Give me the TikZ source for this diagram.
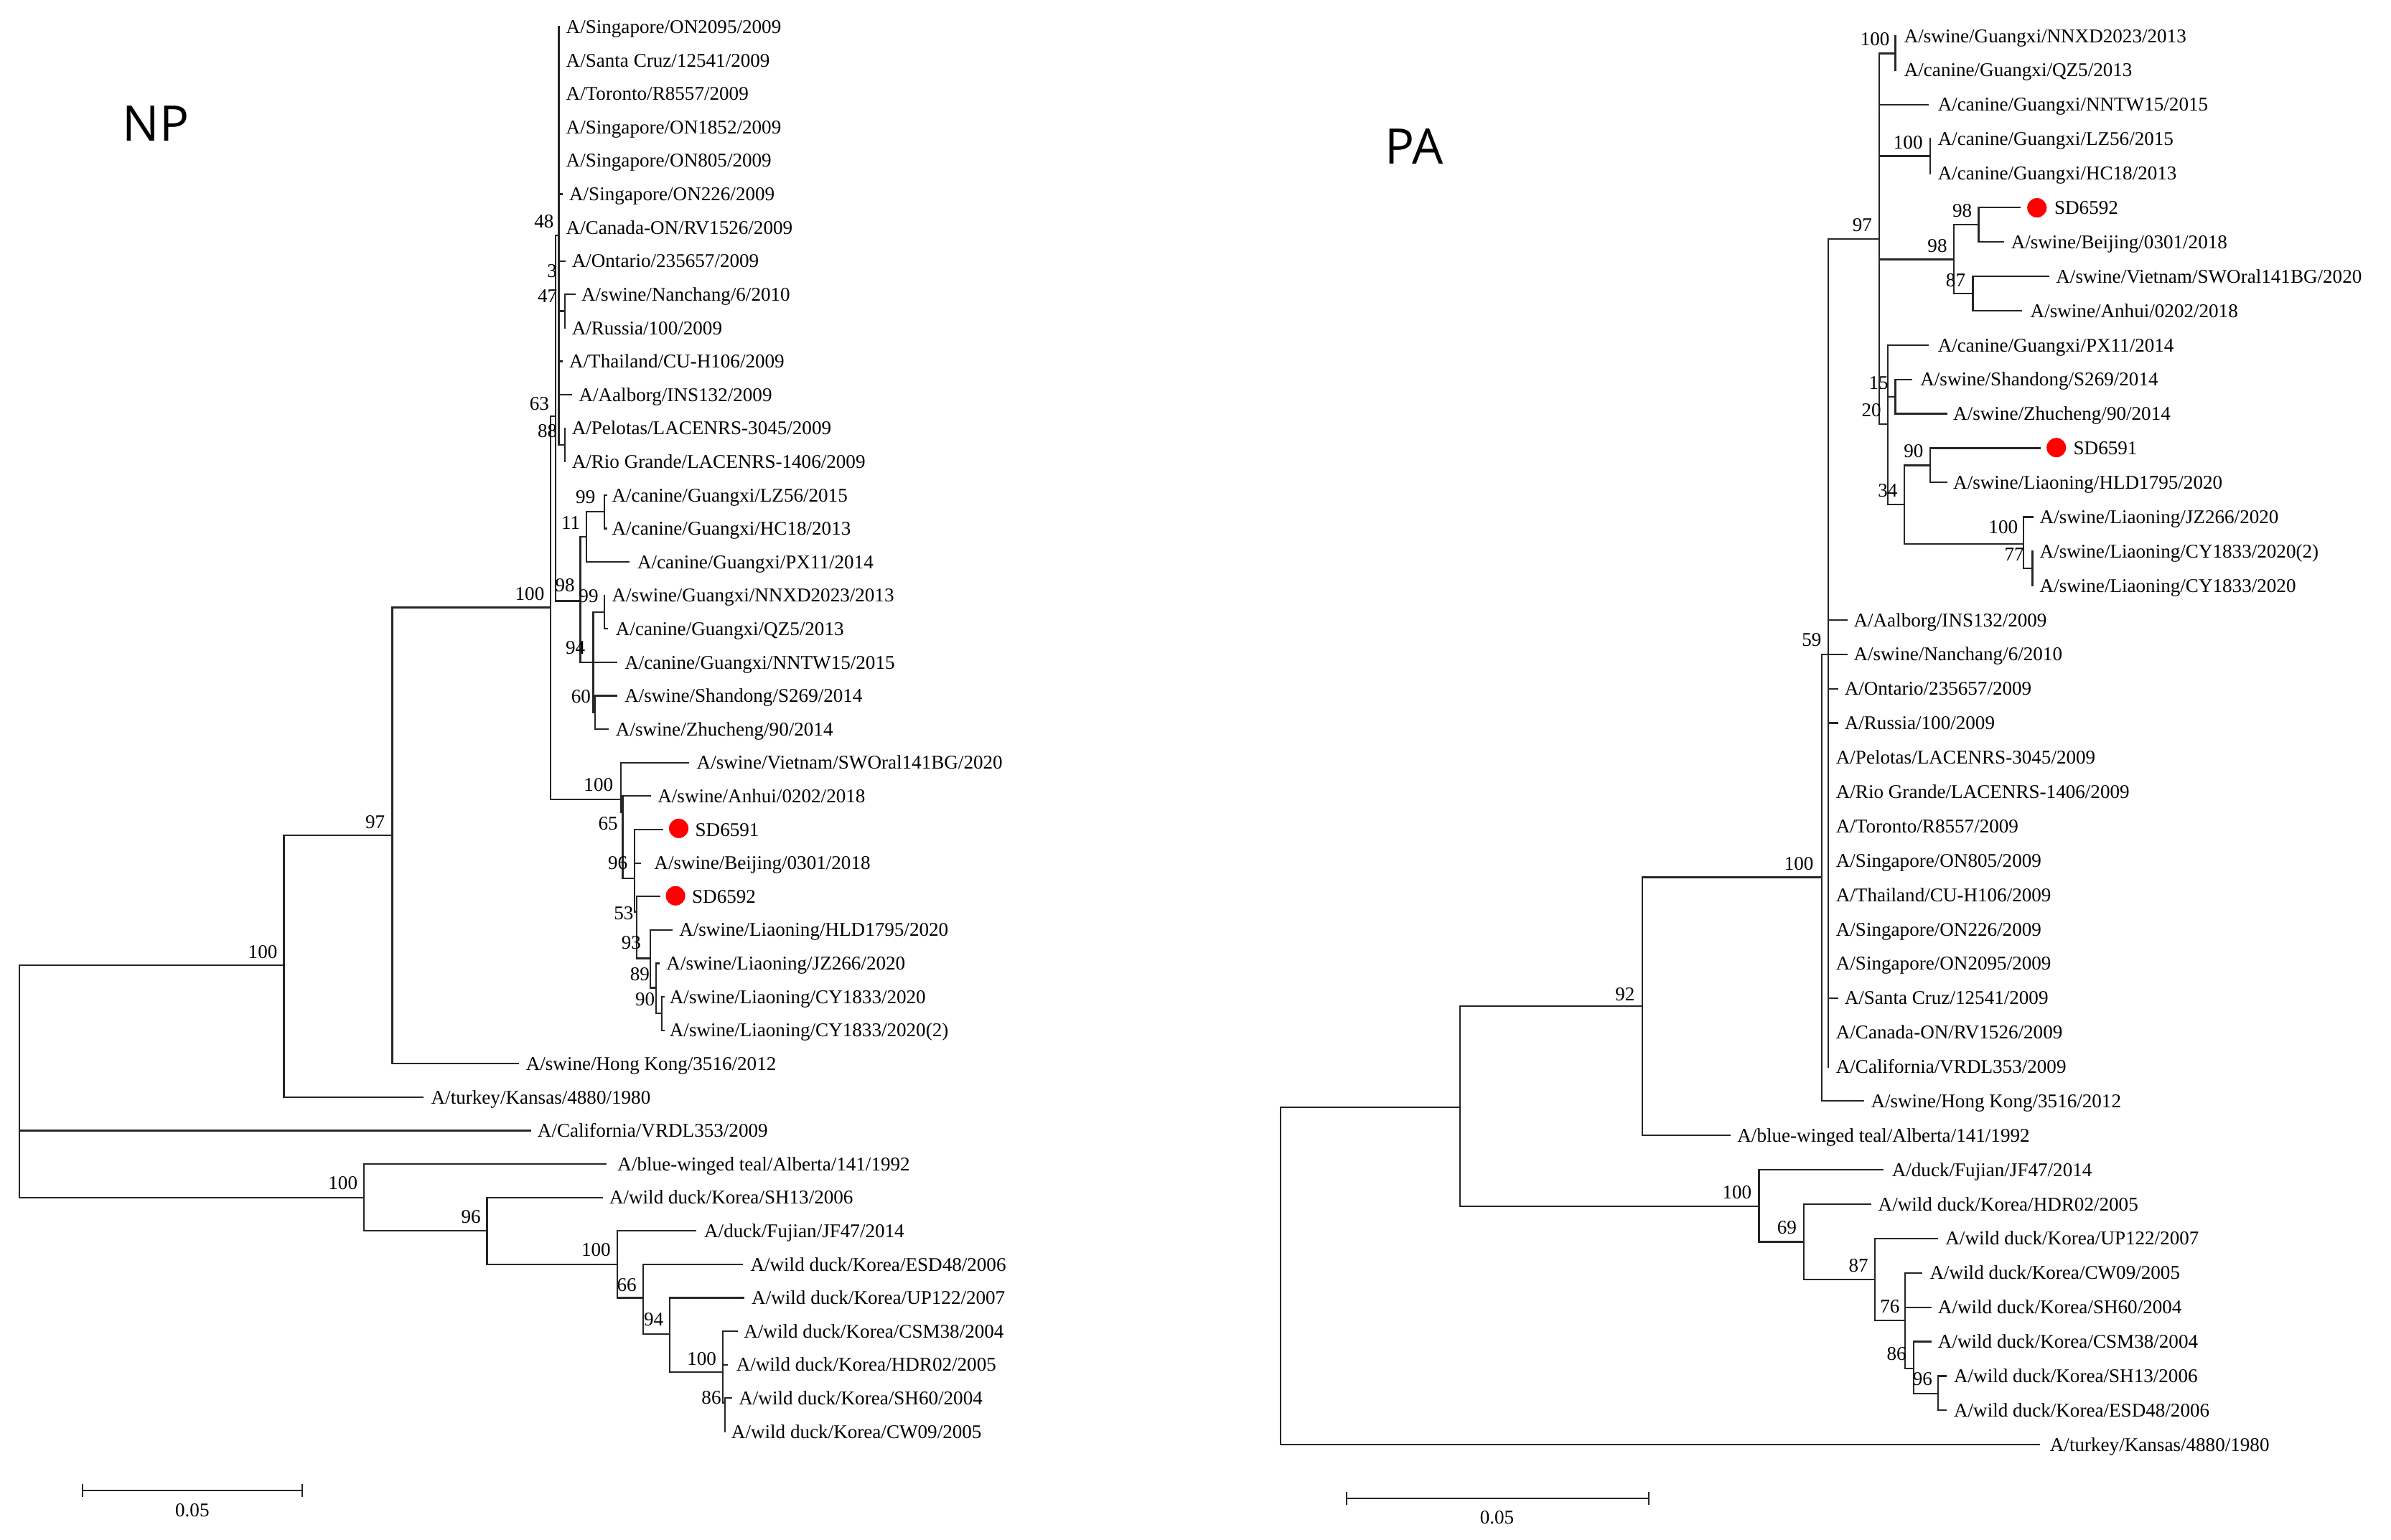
\documentclass[tikz,border=0pt]{standalone}
\usepackage{fontspec}
\setmainfont{Liberation Serif}
\newfontfamily\titlefont{Open Sans}
\newcommand\lbl{\fontsize{7.26}{8}\selectfont}
\newcommand\LY[1]{(17.6+21.94*(#1-1))}
\newcommand\RY[1]{(23.5+22.54*(#1-1))}
\begin{document}
\begin{tikzpicture}[x=0.2mm,y=-0.2mm,
 br/.style={line width=0.6pt,draw=black!85,line cap=rect},
 lf/.style={anchor=base west,inner sep=0pt,font=\lbl},
 bs/.style={anchor=base,inner sep=0pt,font=\lbl},
 dot/.style={circle,fill=red,draw=none,inner sep=0pt,minimum size=2.55mm},
 ttl/.style={anchor=base west,inner sep=0pt,font=\titlefont\fontsize{18.3}{20}\selectfont}]
\useasboundingbox[fill=white] (0,0) rectangle (1568,1010);

% ================= NP tree =================
\node[ttl] (tNP) at (80,92.7) {NP};
% root and backbone
\draw[br] (12.6,633.2) -- (12.6,785.5);
\draw[br] (12.6,633.2) -- (186.2,633.2);
\draw[br] (12.6,741.6) -- (348,741.6);
\draw[br] (186.2,548) -- (186.2,719.7) -- (277.4,719.7);
\draw[br] (186.2,548) -- (257.2,548);
\draw[br] (257.2,398.5) -- (257.2,697.7) -- (339.6,697.7);
\draw[br] (257.2,398.5) -- (361,398.5);
% pdm09 cluster
\draw[br] (361,273.1) -- (361,524.5) (361,273.1) -- (364.4,273.1);
\draw[br] (364.4,154.4) -- (364.4,394.2) (364.4,154.4) -- (366.5,154.4);
\draw[br] (366.5,17.6) -- (366.5,291.9);
\draw[br] (366.5,127.3) -- (368.6,127.3);
\draw[br] (366.5,171.2) -- (370.5,171.2);
\draw[br] (366.5,204.1) -- (370.5,204.1) (370.5,193.1) -- (370.5,215.1) (370.5,193.1) -- (376.8,193.1);
\draw[br] (366.5,237) -- (368.6,237);
\draw[br] (366.5,259) -- (374.7,259);
\draw[br] (366.5,291.9) -- (370.5,291.9) (370.5,280.9) -- (370.5,302.8);
% canine / swine Guangxi
\draw[br] (364.4,394.2) -- (380.6,394.2) (380.6,352.2) -- (380.6,434.5);
\draw[br] (380.6,352.2) -- (384.5,352.2) (384.5,335.7) -- (384.5,368.6);
\draw[br] (384.5,335.7) -- (396.3,335.7) (396.3,324.8) -- (396.3,346.7);
\draw[br] (396.3,324.8) -- (397.8,324.8) (396.3,346.7) -- (397.8,346.7);
\draw[br] (384.5,368.6) -- (412.5,368.6);
\draw[br] (380.6,434.5) -- (389,434.5) (389,401.6) -- (389,467.4);
\draw[br] (389,401.6) -- (396.3,401.6) (396.3,390.6) -- (396.3,412.5) -- (398.4,412.5);
\draw[br] (389,434.5) -- (404.1,434.5);
\draw[br] (389,467.4) -- (390.4,467.4) (390.4,456.4) -- (390.4,478.3);
\draw[br] (390.4,456.4) -- (404.1,456.4) (390.4,478.3) -- (398.8,478.3);
% swine 2018-2020 clade
\draw[br] (361,524.5) -- (407.2,524.5);
\draw[br] (407.2,500.3) -- (407.2,533) (407.2,500.3) -- (451.4,500.3);
\draw[br] (407.2,533) -- (408.3,533) (408.3,522.2) -- (408.3,576) (408.3,522.2) -- (426.2,522.2);
\draw[br] (408.3,576) -- (416.1,576) (416.1,544.2) -- (416.1,598);
\draw[br] (416.1,544.2) -- (434.5,544.2) (416.1,566.1) -- (419.8,566.1);
\draw[br] (416.1,598) -- (417.7,598) (417.7,588) -- (417.7,628.7) (417.7,588) -- (432.5,588);
\draw[br] (417.7,628.7) -- (426.6,628.7) (426.6,610) -- (426.6,648) (426.6,610) -- (440.4,610);
\draw[br] (426.6,648) -- (430.3,648) (430.3,631.9) -- (430.3,664.8) (430.3,631.9) -- (432,631.9);
\draw[br] (430.3,664.8) -- (434.1,664.8) (434.1,653.9) -- (434.1,675.8);
\draw[br] (434.1,653.9) -- (435.5,653.9) (434.1,675.8) -- (435.5,675.8);
% avian outgroup
\draw[br] (12.6,785.5) -- (238.7,785.5) (238.7,763.6) -- (238.7,807.4) (238.7,763.6) -- (397.2,763.6);
\draw[br] (238.7,807.4) -- (319.4,807.4) (319.4,785.5) -- (319.4,829.4) (319.4,785.5) -- (395.1,785.5);
\draw[br] (319.4,829.4) -- (404.7,829.4) (404.7,807.4) -- (404.7,851.3) (404.7,807.4) -- (456,807.4);
\draw[br] (404.7,851.3) -- (421.6,851.3) (421.6,829.4) -- (421.6,875) (421.6,829.4) -- (486.7,829.4);
\draw[br] (421.6,875) -- (439.2,875) (439.2,851.3) -- (439.2,900) (439.2,851.3) -- (487.5,851.3);
\draw[br] (439.2,900) -- (474.1,900) (474.1,873.3) -- (474.1,920) (474.1,873.3) -- (483.3,873.3) (474.1,895.2) -- (477,895.2);
\draw[br] (474.1,920) -- (475.5,920) (475.5,917.1) -- (475.5,939.1) (475.5,917.1) -- (479.5,917.1);

% NP leaf labels
\node[lf] (n1) at (370.9,{\LY{1}+4.3}) {A/Singapore/ON2095/2009};
\node[lf] (n2) at (370.9,{\LY{2}+4.3}) {A/Santa Cruz/12541/2009};
\node[lf] (n3) at (370.9,{\LY{3}+4.3}) {A/Toronto/R8557/2009};
\node[lf] (n4) at (370.9,{\LY{4}+4.3}) {A/Singapore/ON1852/2009};
\node[lf] (n5) at (370.9,{\LY{5}+4.3}) {A/Singapore/ON805/2009};
\node[lf] (n6) at (373,{\LY{6}+4.3}) {A/Singapore/ON226/2009};
\node[lf] (n7) at (370.9,{\LY{7}+4.3}) {A/Canada-ON/RV1526/2009};
\node[lf] (n8) at (374.7,{\LY{8}+4.3}) {A/Ontario/235657/2009};
\node[lf] (n9) at (381,{\LY{9}+4.3}) {A/swine/Nanchang/6/2010};
\node[lf] (n10) at (374.7,{\LY{10}+4.3}) {A/Russia/100/2009};
\node[lf] (n11) at (373,{\LY{11}+4.3}) {A/Thailand/CU-H106/2009};
\node[lf] (n12) at (379.3,{\LY{12}+4.3}) {A/Aalborg/INS132/2009};
\node[lf] (n13) at (374.7,{\LY{13}+4.3}) {A/Pelotas/LACENRS-3045/2009};
\node[lf] (n14) at (374.7,{\LY{14}+4.3}) {A/Rio Grande/LACENRS-1406/2009};
\node[lf] (n15) at (401,{\LY{15}+4.3}) {A/canine/Guangxi/LZ56/2015};
\node[lf] (n16) at (401,{\LY{16}+4.3}) {A/canine/Guangxi/HC18/2013};
\node[lf] (n17) at (417.7,{\LY{17}+4.3}) {A/canine/Guangxi/PX11/2014};
\node[lf] (n18) at (401,{\LY{18}+4.3}) {A/swine/Guangxi/NNXD2023/2013};
\node[lf] (n19) at (403.5,{\LY{19}+4.3}) {A/canine/Guangxi/QZ5/2013};
\node[lf] (n20) at (409.3,{\LY{20}+4.3}) {A/canine/Guangxi/NNTW15/2015};
\node[lf] (n21) at (409.3,{\LY{21}+4.3}) {A/swine/Shandong/S269/2014};
\node[lf] (n22) at (403.5,{\LY{22}+4.3}) {A/swine/Zhucheng/90/2014};
\node[lf] (n23) at (456.6,{\LY{23}+4.3}) {A/swine/Vietnam/SWOral141BG/2020};
\node[lf] (n24) at (431,{\LY{24}+4.3}) {A/swine/Anhui/0202/2018};
\node[lf] (n25) at (455.6,{\LY{25}+4.3}) {SD6591};
\node[lf] (n26) at (428.7,{\LY{26}+4.3}) {A/swine/Beijing/0301/2018};
\node[lf] (n27) at (453.5,{\LY{27}+4.3}) {SD6592};
\node[lf] (n28) at (445.1,{\LY{28}+4.3}) {A/swine/Liaoning/HLD1795/2020};
\node[lf] (n29) at (436.7,{\LY{29}+4.3}) {A/swine/Liaoning/JZ266/2020};
\node[lf] (n30) at (438.8,{\LY{30}+4.3}) {A/swine/Liaoning/CY1833/2020};
\node[lf] (n31) at (438.8,{\LY{31}+4.3}) {A/swine/Liaoning/CY1833/2020(2)};
\node[lf] (n32) at (344.6,{\LY{32}+4.3}) {A/swine/Hong Kong/3516/2012};
\node[lf] (n33) at (282.4,{\LY{33}+4.3}) {A/turkey/Kansas/4880/1980};
\node[lf] (n34) at (352.2,{\LY{34}+4.3}) {A/California/VRDL353/2009};
\node[lf] (n35) at (404.7,{\LY{35}+4.3}) {A/blue-winged teal/Alberta/141/1992};
\node[lf] (n36) at (399.3,{\LY{36}+4.3}) {A/wild duck/Korea/SH13/2006};
\node[lf] (n37) at (461.5,{\LY{37}+4.3}) {A/duck/Fujian/JF47/2014};
\node[lf] (n38) at (491.8,{\LY{38}+4.3}) {A/wild duck/Korea/ESD48/2006};
\node[lf] (n39) at (492.6,{\LY{39}+4.3}) {A/wild duck/Korea/UP122/2007};
\node[lf] (n40) at (487.5,{\LY{40}+4.3}) {A/wild duck/Korea/CSM38/2004};
\node[lf] (n41) at (482.5,{\LY{41}+4.3}) {A/wild duck/Korea/HDR02/2005};
\node[lf] (n42) at (484.2,{\LY{42}+4.3}) {A/wild duck/Korea/SH60/2004};
\node[lf] (n43) at (479.3,{\LY{43}+4.3}) {A/wild duck/Korea/CW09/2005};
\node[dot] (nd1) at (445.1,543.4) {};
\node[dot] (nd2) at (443,587.6) {};

% NP bootstrap values
\node[bs] (nb1) at (172.3,628.8) {100};
\node[bs] (nb2) at (246,543.3) {97};
\node[bs] (nb3) at (347.4,393.9) {100};
\node[bs] (nb4) at (356.8,149.3) {48};
\node[bs] (nb5) at (362,181.8) {3};
\node[bs] (nb6) at (359,198.6) {47};
\node[bs] (nb7) at (353.7,269) {63};
\node[bs] (nb8) at (359,286.9) {88};
\node[bs] (nb9) at (384,330.3) {99};
\node[bs] (nb10) at (374.3,347.1) {11};
\node[bs] (nb11) at (370.5,388) {98};
\node[bs] (nb12) at (386,395.3) {99};
\node[bs] (nb13) at (377.4,429) {94};
\node[bs] (nb14) at (381,461.1) {60};
\node[bs] (nb15) at (392.5,519.1) {100};
\node[bs] (nb16) at (398.8,544.3) {65};
\node[bs] (nb17) at (405.1,570.3) {96};
\node[bs] (nb18) at (409,603.2) {53};
\node[bs] (nb19) at (414,622.6) {93};
\node[bs] (nb20) at (419.6,643.3) {89};
\node[bs] (nb21) at (423,659.5) {90};
\node[bs] (nb22) at (224.9,780.1) {100};
\node[bs] (nb23) at (308.9,802.3) {96};
\node[bs] (nb24) at (390.9,823.9) {100};
\node[bs] (nb25) at (411,846.9) {66};
\node[bs] (nb26) at (428.7,869.8) {94};
\node[bs] (nb27) at (460.2,895.5) {100};
\node[bs] (nb28) at (466.5,921.2) {86};

% NP scale bar
\draw[br] (54.1,977.8) -- (198.2,977.8) (54.1,973.8) -- (54.1,981.5) (198.2,973.8) -- (198.2,981.5);
\node[bs] (nsc) at (126.1,995) {0.05};

% ================= PA tree =================
\node[ttl] (tPA) at (908,107.7) {PA};
\draw[br] (839.6,726.3) -- (839.6,947.6) -- (1337.3,947.6);
\draw[br] (839.6,726.3) -- (957.6,726.3) (957.6,659.9) -- (957.6,791.4);
\draw[br] (957.6,659.9) -- (1076.9,659.9) (1076.9,575.5) -- (1076.9,744.8) -- (1134.6,744.8);
\draw[br] (1076.9,575.5) -- (1194.6,575.5) (1194.6,429.2) -- (1194.6,722.2) -- (1221.8,722.2);
\draw[br] (1194.6,429.2) -- (1211,429.2) (1199,156.7) -- (1199,699.7);
\draw[br] (1199,406.7) -- (1211,406.7) (1199,451.8) -- (1205,451.8) (1199,474.3) -- (1205,474.3) (1199,654.6) -- (1205,654.6);
\draw[br] (1199,156.7) -- (1232.5,156.7) (1232.5,35.1) -- (1232.5,278.3);
\draw[br] (1232.5,35.1) -- (1242.9,35.1) (1242.9,23.5) -- (1242.9,46.0);
\draw[br] (1232.5,68.6) -- (1264.5,68.6);
\draw[br] (1232.5,102.4) -- (1265.7,102.4) (1265.7,91.1) -- (1265.7,113.7);
\draw[br] (1232.5,170.2) -- (1281.3,170.2) (1281.3,147.5) -- (1281.3,192.6);
\draw[br] (1281.3,147.5) -- (1297.6,147.5) (1297.6,136.2) -- (1297.6,158.7);
\draw[br] (1297.6,136.2) -- (1324.5,136.2) (1297.6,158.7) -- (1313.7,158.7);
\draw[br] (1281.3,192.6) -- (1293.8,192.6) (1293.8,181.3) -- (1293.8,203.8);
\draw[br] (1293.8,181.3) -- (1343.3,181.3) (1293.8,203.8) -- (1325.7,203.8);
\draw[br] (1232.5,278.3) -- (1238.1,278.3) (1238.1,226.4) -- (1238.1,331);
\draw[br] (1238.1,226.4) -- (1264.5,226.4);
\draw[br] (1238.1,260.2) -- (1242.9,260.2) (1242.9,248.9) -- (1242.9,271.4);
\draw[br] (1242.9,248.9) -- (1253.7,248.9) (1242.9,271.4) -- (1276.5,271.4);
\draw[br] (1238.1,331) -- (1248.9,331) (1248.9,305.3) -- (1248.9,356.7);
\draw[br] (1248.9,305.3) -- (1265.7,305.3) (1265.7,294) -- (1265.7,316.5);
\draw[br] (1265.7,294) -- (1337.7,294) (1265.7,316.5) -- (1276.5,316.5);
\draw[br] (1248.9,356.7) -- (1326.9,356.7) (1326.9,339.1) -- (1326.9,372.9) (1326.9,339.1) -- (1332.9,339.1);
\draw[br] (1326.9,372.9) -- (1332.9,372.9) (1332.9,361.6) -- (1332.9,384.1);
% avian outgroup
\draw[br] (957.6,791.4) -- (1153.5,791.4) (1153.5,767.3) -- (1153.5,814.6) (1153.5,767.3) -- (1234.6,767.3);
\draw[br] (1153.5,814.6) -- (1182.8,814.6) (1182.8,789.9) -- (1182.8,839.4) (1182.8,789.9) -- (1226.5,789.9);
\draw[br] (1182.8,839.4) -- (1229.5,839.4) (1229.5,812.4) -- (1229.5,866.3) (1229.5,812.4) -- (1270.5,812.4);
\draw[br] (1229.5,866.3) -- (1249.4,866.3) (1249.4,834.9) -- (1249.4,897.5) (1249.4,834.9) -- (1260,834.9) (1249.4,857.5) -- (1266,857.5);
\draw[br] (1249.4,897.5) -- (1254.8,897.5) (1254.8,880) -- (1254.8,914.2) (1254.8,880) -- (1266,880);
\draw[br] (1254.8,914.2) -- (1271,914.2) (1271,902.6) -- (1271,925.1) (1271,902.6) -- (1276,902.6) (1271,925.1) -- (1276,925.1);

% PA leaf labels
\node[lf] (p1) at (1248.4,{\RY{1}+4.3}) {A/swine/Guangxi/NNXD2023/2013};
\node[lf] (p2) at (1248.4,{\RY{2}+4.3}) {A/canine/Guangxi/QZ5/2013};
\node[lf] (p3) at (1270.5,{\RY{3}+4.3}) {A/canine/Guangxi/NNTW15/2015};
\node[lf] (p4) at (1270.5,{\RY{4}+4.3}) {A/canine/Guangxi/LZ56/2015};
\node[lf] (p5) at (1270.5,{\RY{5}+4.3}) {A/canine/Guangxi/HC18/2013};
\node[lf] (p6) at (1346.9,{\RY{6}+4.3}) {SD6592};
\node[lf] (p7) at (1318.5,{\RY{7}+4.3}) {A/swine/Beijing/0301/2018};
\node[lf] (p8) at (1348,{\RY{8}+4.3}) {A/swine/Vietnam/SWOral141BG/2020};
\node[lf] (p9) at (1331.2,{\RY{9}+4.3}) {A/swine/Anhui/0202/2018};
\node[lf] (p10) at (1270.5,{\RY{10}+4.3}) {A/canine/Guangxi/PX11/2014};
\node[lf] (p11) at (1259,{\RY{11}+4.3}) {A/swine/Shandong/S269/2014};
\node[lf] (p12) at (1280.6,{\RY{12}+4.3}) {A/swine/Zhucheng/90/2014};
\node[lf] (p13) at (1359.4,{\RY{13}+4.3}) {SD6591};
\node[lf] (p14) at (1280.6,{\RY{14}+4.3}) {A/swine/Liaoning/HLD1795/2020};
\node[lf] (p15) at (1337.3,{\RY{15}+4.3}) {A/swine/Liaoning/JZ266/2020};
\node[lf] (p16) at (1337.3,{\RY{16}+4.3}) {A/swine/Liaoning/CY1833/2020(2)};
\node[lf] (p17) at (1337.3,{\RY{17}+4.3}) {A/swine/Liaoning/CY1833/2020};
\node[lf] (p18) at (1215.3,{\RY{18}+4.3}) {A/Aalborg/INS132/2009};
\node[lf] (p19) at (1215.3,{\RY{19}+4.3}) {A/swine/Nanchang/6/2010};
\node[lf] (p20) at (1209.3,{\RY{20}+4.3}) {A/Ontario/235657/2009};
\node[lf] (p21) at (1209.3,{\RY{21}+4.3}) {A/Russia/100/2009};
\node[lf] (p22) at (1203.7,{\RY{22}+4.3}) {A/Pelotas/LACENRS-3045/2009};
\node[lf] (p23) at (1203.7,{\RY{23}+4.3}) {A/Rio Grande/LACENRS-1406/2009};
\node[lf] (p24) at (1203.7,{\RY{24}+4.3}) {A/Toronto/R8557/2009};
\node[lf] (p25) at (1203.7,{\RY{25}+4.3}) {A/Singapore/ON805/2009};
\node[lf] (p26) at (1203.7,{\RY{26}+4.3}) {A/Thailand/CU-H106/2009};
\node[lf] (p27) at (1203.7,{\RY{27}+4.3}) {A/Singapore/ON226/2009};
\node[lf] (p28) at (1203.7,{\RY{28}+4.3}) {A/Singapore/ON2095/2009};
\node[lf] (p29) at (1209.3,{\RY{29}+4.3}) {A/Santa Cruz/12541/2009};
\node[lf] (p30) at (1203.7,{\RY{30}+4.3}) {A/Canada-ON/RV1526/2009};
\node[lf] (p31) at (1203.7,{\RY{31}+4.3}) {A/California/VRDL353/2009};
\node[lf] (p32) at (1226.6,{\RY{32}+4.3}) {A/swine/Hong Kong/3516/2012};
\node[lf] (p33) at (1139,{\RY{33}+4.3}) {A/blue-winged teal/Alberta/141/1992};
\node[lf] (p34) at (1240.4,{\RY{34}+4.3}) {A/duck/Fujian/JF47/2014};
\node[lf] (p35) at (1231.4,{\RY{35}+4.3}) {A/wild duck/Korea/HDR02/2005};
\node[lf] (p36) at (1275.5,{\RY{36}+4.3}) {A/wild duck/Korea/UP122/2007};
\node[lf] (p37) at (1265.2,{\RY{37}+4.3}) {A/wild duck/Korea/CW09/2005};
\node[lf] (p38) at (1270.6,{\RY{38}+4.3}) {A/wild duck/Korea/SH60/2004};
\node[lf] (p39) at (1270.6,{\RY{39}+4.3}) {A/wild duck/Korea/CSM38/2004};
\node[lf] (p40) at (1281,{\RY{40}+4.3}) {A/wild duck/Korea/SH13/2006};
\node[lf] (p41) at (1281,{\RY{41}+4.3}) {A/wild duck/Korea/ESD48/2006};
\node[lf] (p42) at (1344,{\RY{42}+4.3}) {A/turkey/Kansas/4880/1980};
\node[dot] (pd1) at (1335.8,136.3) {};
\node[dot] (pd2) at (1348.5,293.6) {};

% PA bootstrap values
\node[bs] (pb1) at (1229.6,30) {100};
\node[bs] (pb2) at (1251.3,97.5) {100};
\node[bs] (pb3) at (1286.8,142.6) {98};
\node[bs] (pb4) at (1270.5,165.6) {98};
\node[bs] (pb5) at (1282.5,188) {87};
\node[bs] (pb6) at (1221.2,151.6) {97};
\node[bs] (pb7) at (1232,255.6) {15};
\node[bs] (pb8) at (1227.2,273.1) {20};
\node[bs] (pb9) at (1254.9,300.2) {90};
\node[bs] (pb10) at (1238,325.8) {34};
\node[bs] (pb11) at (1313.7,350.2) {100};
\node[bs] (pb12) at (1320.9,367.7) {77};
\node[bs] (pb13) at (1188.1,424.1) {59};
\node[bs] (pb14) at (1179.7,570.7) {100};
\node[bs] (pb15) at (1065.7,656.3) {92};
\node[bs] (pb16) at (1139.1,786.2) {100};
\node[bs] (pb17) at (1171.8,809.3) {69};
\node[bs] (pb18) at (1218.8,834.2) {87};
\node[bs] (pb19) at (1239.4,861.4) {76};
\node[bs] (pb20) at (1243.7,892.1) {86};
\node[bs] (pb21) at (1260.8,908.8) {96};

% PA scale bar
\draw[br] (883,983) -- (1081.2,983) (883,979) -- (883,986.7) (1081.2,979) -- (1081.2,986.7);
\node[bs] (psc) at (981.7,999.8) {0.05};
\end{tikzpicture}
\end{document}
